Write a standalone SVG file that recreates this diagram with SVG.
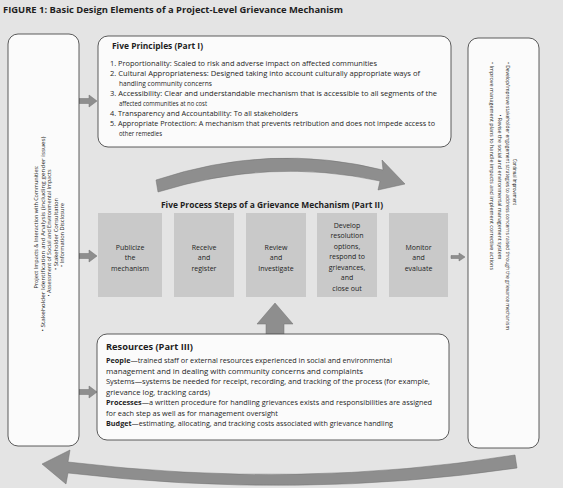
<svg xmlns="http://www.w3.org/2000/svg" width="563" height="488" viewBox="0 0 563 488">
<defs>
<style>
text{font-family:"Open Sans","Liberation Sans",sans-serif;fill:#1e1e1e}
.box{fill:#fbfbfb;stroke:#4a4a4a;stroke-width:0.9}
.step{fill:#c9c9c9}
.arr{fill:#8e8e8e;stroke:#707070;stroke-width:0.5}
.hd{font-weight:bold;font-size:8.5px}
.tx{font-size:6.6px}
.st{font-size:7px;text-anchor:middle}
.sm{font-size:5.6px}
.mid{text-anchor:middle}
</style>
</defs>
<rect x="0" y="0" width="563" height="488" fill="#e4e4e4"/>
<text x="3" y="13" class="hd" font-size="9" textLength="340" lengthAdjust="spacingAndGlyphs">FIGURE 1: Basic Design Elements of a Project-Level Grievance Mechanism</text>

<g id="connectors">
<path class="arr" d="M79,98.5 H89 V95 L97,101 L89,107 V103.5 H79 Z"/>
<path class="arr" d="M79,253.5 H89 V250 L97,256 L89,262 V258.5 H79 Z"/>
<path class="arr" d="M79,389.5 H89 V386 L97,392 L89,398 V394.5 H79 Z"/>
<path class="arr" d="M451,255.5 H459 V253 L465,257 L459,261 V258.5 H451 Z"/>
<path class="arr" d="M266,335 V324 H257 L275,303 L293,324 H284 V335 Z"/>
<path class="arr" d="M156,180 Q270,142 383,170 L382,160 L405,184 L378,190 L380,181 Q270,157 158,192 Z"/>
<path class="arr" d="M515,455 Q300,490 68,462 L70,450 L42,464 L66,484 L68,473 Q300,500 517,468 Z"/>
</g>

<g id="node-impacts">
<rect class="box" x="8" y="34" width="71" height="412" rx="10"/>
<text class="sm mid" transform="translate(38,227) rotate(-90)" textLength="123" lengthAdjust="spacingAndGlyphs">Project Impacts &amp; Interaction with Communities:</text>
<text class="sm mid" transform="translate(44.5,234) rotate(-90)" textLength="195" lengthAdjust="spacingAndGlyphs">• Stakeholder Identification and Analysis (including gender issues)</text>
<text class="sm mid" transform="translate(51,233) rotate(-90)" textLength="127" lengthAdjust="spacingAndGlyphs">• Assessment of Social and Environmental Impacts</text>
<text class="sm mid" transform="translate(57.5,234) rotate(-90)" textLength="72" lengthAdjust="spacingAndGlyphs">• Stakeholder Consultation</text>
<text class="sm mid" transform="translate(64,235) rotate(-90)" textLength="64" lengthAdjust="spacingAndGlyphs">• Information Disclosure</text>
</g>

<g id="node-principles">
<rect class="box" x="98" y="36" width="353" height="111" rx="10"/>
<text x="112" y="49" class="hd" textLength="91" lengthAdjust="spacingAndGlyphs">Five Principles (Part I)</text>
<text x="110" y="65.5" class="tx" textLength="267" lengthAdjust="spacingAndGlyphs">1. Proportionality: Scaled to risk and adverse impact on affected communities</text>
<text x="110" y="76" class="tx" textLength="310" lengthAdjust="spacingAndGlyphs">2. Cultural Appropriateness: Designed taking into account culturally appropriate ways of</text>
<text x="119" y="85.5" class="tx" textLength="93" lengthAdjust="spacingAndGlyphs">handling community concerns</text>
<text x="110" y="96" class="tx" textLength="327" lengthAdjust="spacingAndGlyphs">3. Accessibility: Clear and understandable mechanism that is accessible to all segments of the</text>
<text x="119" y="105.5" class="tx" textLength="88" lengthAdjust="spacingAndGlyphs">affected communities at no cost</text>
<text x="110" y="116" class="tx" textLength="188" lengthAdjust="spacingAndGlyphs">4. Transparency and Accountability: To all stakeholders</text>
<text x="110" y="126" class="tx" textLength="325" lengthAdjust="spacingAndGlyphs">5. Appropriate Protection: A mechanism that prevents retribution and does not impede access to</text>
<text x="119" y="135.5" class="tx" textLength="43" lengthAdjust="spacingAndGlyphs">other remedies</text>
</g>

<g id="node-steps-title">
<text x="272" y="208" class="hd mid" font-size="8" textLength="222" lengthAdjust="spacingAndGlyphs">Five Process Steps of a Grievance Mechanism (Part II)</text>
</g>

<g id="node-step1">
<rect class="step" x="98" y="213" width="64" height="84"/>
<text class="st" x="130" y="249.5">Publicize</text>
<text class="st" x="130" y="260">the</text>
<text class="st" x="130" y="270.5">mechanism</text>
</g>
<g id="node-step2">
<rect class="step" x="174" y="213" width="60" height="84"/>
<text class="st" x="204" y="249.5">Receive</text>
<text class="st" x="204" y="260">and</text>
<text class="st" x="204" y="270.5">register</text>
</g>
<g id="node-step3">
<rect class="step" x="246" y="213" width="60" height="84"/>
<text class="st" x="276" y="249.5">Review</text>
<text class="st" x="276" y="260">and</text>
<text class="st" x="276" y="270.5">Investigate</text>
</g>
<g id="node-step4">
<rect class="step" x="317" y="213" width="60" height="84"/>
<text class="st" x="347" y="227.5">Develop</text>
<text class="st" x="347" y="238">resolution</text>
<text class="st" x="347" y="248.5">options,</text>
<text class="st" x="347" y="259">respond to</text>
<text class="st" x="347" y="269.5">grievances,</text>
<text class="st" x="347" y="280">and</text>
<text class="st" x="347" y="290.5">close out</text>
</g>
<g id="node-step5">
<rect class="step" x="389" y="213" width="59" height="84"/>
<text class="st" x="418.5" y="249.5">Monitor</text>
<text class="st" x="418.5" y="260">and</text>
<text class="st" x="418.5" y="270.5">evaluate</text>
</g>

<g id="node-resources">
<rect class="box" x="97" y="334" width="352" height="106" rx="10"/>
<text x="106" y="350" class="hd" font-size="8" textLength="87" lengthAdjust="spacingAndGlyphs">Resources (Part III)</text>
<text x="106" y="363" class="tx" textLength="286" lengthAdjust="spacingAndGlyphs"><tspan font-weight="bold">People</tspan>—trained staff or external resources experienced in social and environmental</text>
<text x="106" y="373.5" class="tx" textLength="257" lengthAdjust="spacingAndGlyphs">management and in dealing with community concerns and complaints</text>
<text x="106" y="384" class="tx" textLength="324" lengthAdjust="spacingAndGlyphs">Systems—systems be needed for receipt, recording, and tracking of the process (for example,</text>
<text x="106" y="394.5" class="tx" textLength="104" lengthAdjust="spacingAndGlyphs">grievance log, tracking cards)</text>
<text x="106" y="405" class="tx" textLength="326" lengthAdjust="spacingAndGlyphs"><tspan font-weight="bold">Processes</tspan>—a written procedure for handling grievances exists and responsibilities are assigned</text>
<text x="106" y="415.5" class="tx" textLength="172" lengthAdjust="spacingAndGlyphs">for each step as well as for management oversight</text>
<text x="106" y="426" class="tx" textLength="287" lengthAdjust="spacingAndGlyphs"><tspan font-weight="bold">Budget</tspan>—estimating, allocating, and tracking costs associated with grievance handling</text>
</g>

<g id="node-improvement">
<rect class="box" x="468" y="38" width="71" height="410" rx="10"/>
<text class="sm mid" transform="translate(513,182) rotate(90)" textLength="46" lengthAdjust="spacingAndGlyphs">Continual Improvement</text>
<text class="sm" transform="translate(506,62) rotate(90)" textLength="268" lengthAdjust="spacingAndGlyphs">• Develop/improve stakeholder engagement strategies to address concerns raised through the grievance mechanism</text>
<text class="sm mid" transform="translate(498,187) rotate(90)" textLength="145" lengthAdjust="spacingAndGlyphs">• Revise the social and environmental management system</text>
<text class="sm" transform="translate(490,62) rotate(90)" textLength="208" lengthAdjust="spacingAndGlyphs">• Improve management plans to handle impacts and implement corrective actions</text>
</g>
</svg>
